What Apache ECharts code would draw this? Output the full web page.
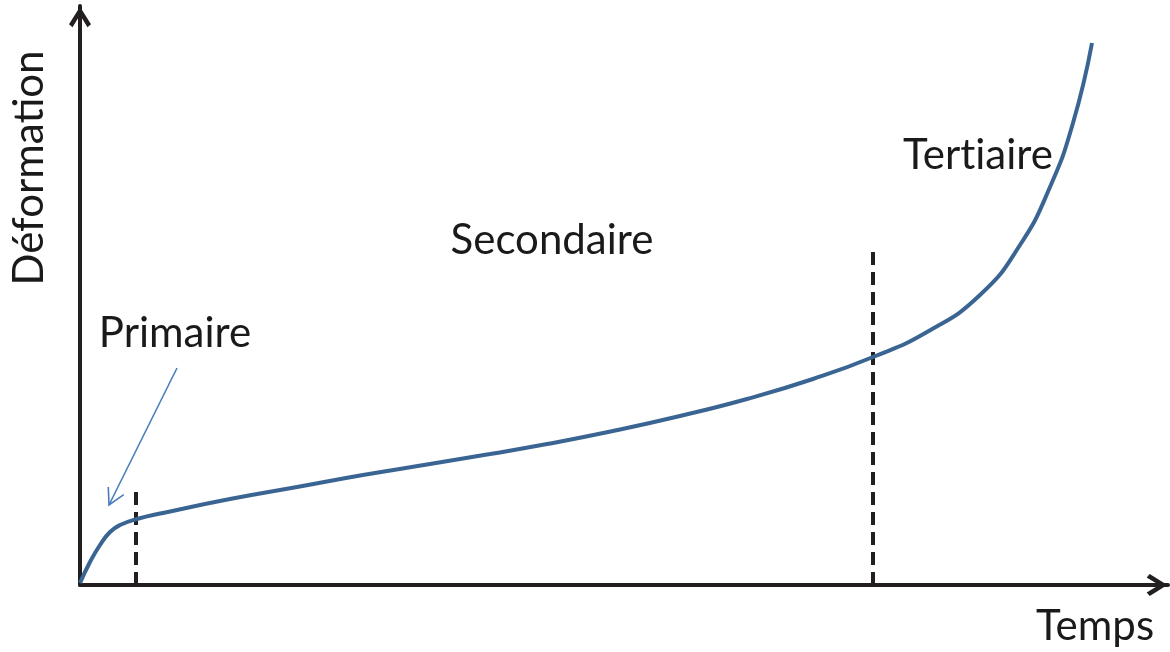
<!DOCTYPE html>
<html>
<head>
<meta charset="utf-8">
<script src="https://cdn.jsdelivr.net/npm/echarts@6/dist/echarts.min.js"></script>
<style>html,body{margin:0;padding:0;background:#fff}#c{width:1170px;height:652px}</style>
</head>
<body>
<div id="c"></div>
<script>
// Creep curve (time, strain) in chart units
const curveX = [0, 10, 20, 30, 40, 57, 83, 150, 217, 283, 350, 410, 467, 533, 600, 667, 733, 793, 847, 900, 940, 970, 993, 1012];
const curveY = [2, 23, 40, 53, 60, 66, 72, 86, 98, 110, 121, 131, 141, 154, 169, 186, 206, 228, 253, 290, 340, 398, 462, 542];
// Stage boundaries (time) and dashed line heights
const boundaryX = [56, 793];
const boundaryTop = [97, 340];
// Annotation arrow for "Primaire"
const arrowFrom = [97, 217];
const arrowTo = [29, 80];
// Labels
const xName = 'Temps';
const yName = 'Déforma\u200Ction';
const stageLabels = ['Primaire', 'Secondaire', 'Tert\u200Ciaire'];

const FONT = 'Lato, "Open Sans", sans-serif';
const INK = '#231f20';
const TXT = '#1a1a1a';
const chevron = 'path://M0,80 L50,0 L100,80 L84,94 L50,38 L16,94 Z';

const chart = echarts.init(document.getElementById('c'));
const curve = curveX.map((x, i) => [x, curveY[i]]);

const series = [
  {
    type: 'line', data: curve, smooth: 0.5, symbol: 'none',
    lineStyle: { color: '#3a6593', width: 4 }, z: 3
  }
];
boundaryX.forEach((bx, i) => {
  series.push({
    type: 'line', data: [[bx, 0], [bx, boundaryTop[i]]], symbol: 'none',
    lineStyle: { color: INK, width: 4, type: [13, 7] }, z: 2
  });
});
series.push({
  type: 'custom',
  data: [[arrowFrom[0], arrowFrom[1], arrowTo[0], arrowTo[1]]],
  renderItem: function (params, api) {
    const a = api.coord([api.value(0), api.value(1)]);
    const b = api.coord([api.value(2), api.value(3)]);
    const ang = Math.atan2(a[1] - b[1], a[0] - b[0]);
    const L = 18, s = 0.5;
    const w1 = [b[0] + L * Math.cos(ang + s), b[1] + L * Math.sin(ang + s)];
    const w2 = [b[0] + L * Math.cos(ang - s), b[1] + L * Math.sin(ang - s)];
    const st = { stroke: '#4a7ebb', lineWidth: 1.6, fill: null };
    return {
      type: 'group', children: [
        { type: 'line', shape: { x1: a[0], y1: a[1], x2: b[0], y2: b[1] }, style: st },
        { type: 'polyline', shape: { points: [w1, b, w2] }, style: st }
      ]
    };
  },
  z: 4
});

const label = (text, x, y, rot) => ({
  type: 'text', x: x, y: y, rotation: rot || 0,
  style: { text: text, font: '42px ' + FONT, fill: TXT, align: 'center', verticalAlign: 'middle' }
});

chart.setOption({
  animation: false,
  backgroundColor: '#fff',
  grid: { left: 80, right: 2, top: 6, bottom: 67 },
  xAxis: {
    type: 'value', min: 0, max: 1088,
    axisLine: { show: true, onZero: false, lineStyle: { color: INK, width: 4 },
      symbol: ['none', chevron], symbolSize: [22, 22], symbolOffset: [0, -11] },
    axisTick: { show: false }, axisLabel: { show: false }, splitLine: { show: false }
  },
  yAxis: {
    type: 'value', min: 0, max: 579,
    axisLine: { show: true, onZero: false, lineStyle: { color: INK, width: 4 },
      symbol: ['none', chevron], symbolSize: [22, 22], symbolOffset: [0, -11] },
    axisTick: { show: false }, axisLabel: { show: false }, splitLine: { show: false }
  },
  graphic: [
    label(xName, 1095, 626),
    label(yName, 29, 168, Math.PI / 2),
    label(stageLabels[0], 175, 333),
    label(stageLabels[1], 552, 240),
    label(stageLabels[2], 978, 155)
  ],
  series: series
});
</script>
</body>
</html>
